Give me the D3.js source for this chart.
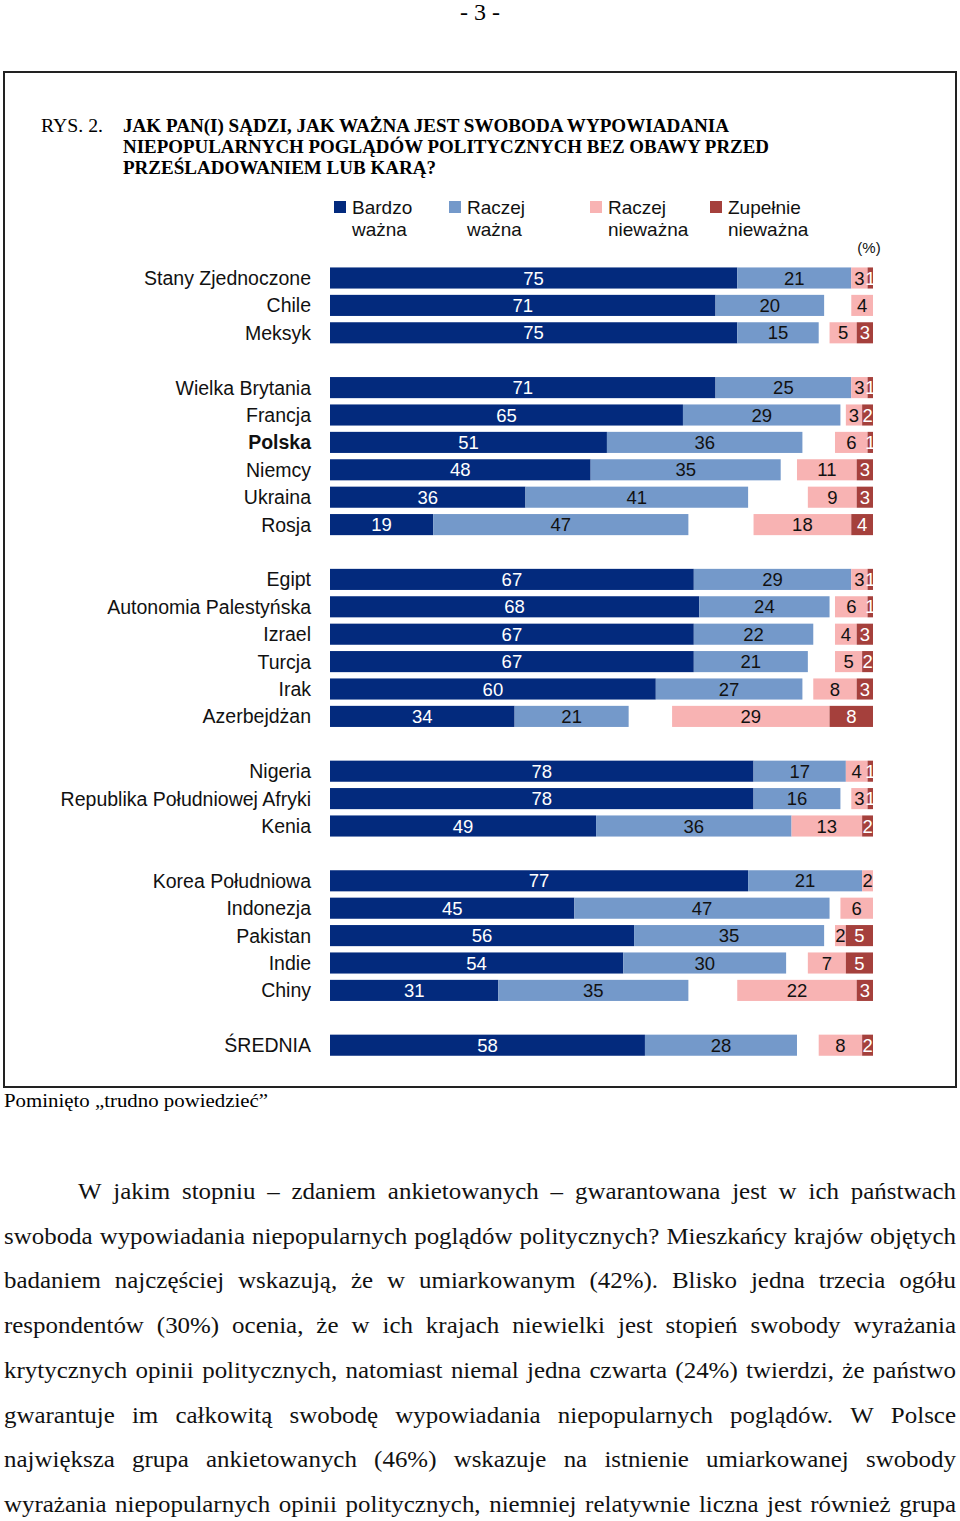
<!DOCTYPE html>
<html>
<head>
<meta charset="utf-8">
<script src="https://cdn.jsdelivr.net/npm/d3@7"></script>
<style>
  html, body { margin: 0; padding: 0; background: #fff; }
  svg { display: block; }
</style>
</head>
<body>
<svg id="chart" width="960" height="1521"></svg>
<script>
// ---------------- DATA ----------------
const countries = [
  "Stany Zjednoczone", "Chile", "Meksyk", null,
  "Wielka Brytania", "Francja", "Polska", "Niemcy", "Ukraina", "Rosja", null,
  "Egipt", "Autonomia Palestyńska", "Izrael", "Turcja", "Irak", "Azerbejdżan", null,
  "Nigeria", "Republika Południowej Afryki", "Kenia", null,
  "Korea Południowa", "Indonezja", "Pakistan", "Indie", "Chiny", null,
  "ŚREDNIA"
];
const bardzoWazna = [75, 71, 75, null, 71, 65, 51, 48, 36, 19, null, 67, 68, 67, 67, 60, 34, null, 78, 78, 49, null, 77, 45, 56, 54, 31, null, 58];
const raczejWazna = [21, 20, 15, null, 25, 29, 36, 35, 41, 47, null, 29, 24, 22, 21, 27, 21, null, 17, 16, 36, null, 21, 47, 35, 30, 35, null, 28];
const raczejNiewazna = [3, 4, 5, null, 3, 3, 6, 11, 9, 18, null, 3, 6, 4, 5, 8, 29, null, 4, 3, 13, null, 2, 6, 2, 7, 22, null, 8];
const zupelnieNiewazna = [1, 0, 3, null, 1, 2, 1, 3, 3, 4, null, 1, 1, 3, 2, 3, 8, null, 1, 1, 2, null, 0, 0, 5, 5, 3, null, 2];
const boldCategory = "Polska";

const seriesNames = [["Bardzo", "ważna"], ["Raczej", "ważna"], ["Raczej", "nieważna"], ["Zupełnie", "nieważna"]];
const colors = ["#032a7d", "#7499ca", "#f8b3b3", "#a5403c"];
const labelColors = ["#ffffff", "#111111", "#111111", "#ffffff"];

const pageNumber = "- 3 -";
const figNo = "RYS. 2.";
const titleLines = [
  "JAK PAN(I) SĄDZI, JAK WAŻNA JEST SWOBODA WYPOWIADANIA",
  "NIEPOPULARNYCH POGLĄDÓW POLITYCZNYCH BEZ OBAWY PRZED",
  "PRZEŚLADOWANIEM LUB KARĄ?"
];
const unitLabel = "(%)";
const footnote = "Pominięto „trudno powiedzieć”";
const bodyLines = [
  "W jakim stopniu – zdaniem ankietowanych – gwarantowana jest w ich państwach",
  "swoboda wypowiadania niepopularnych poglądów politycznych? Mieszkańcy krajów objętych",
  "badaniem najczęściej wskazują, że w umiarkowanym (42%). Blisko jedna trzecia ogółu",
  "respondentów (30%) ocenia, że w ich krajach niewielki jest stopień swobody wyrażania",
  "krytycznych opinii politycznych, natomiast niemal jedna czwarta (24%) twierdzi, że państwo",
  "gwarantuje im całkowitą swobodę wypowiadania niepopularnych poglądów. W Polsce",
  "największa grupa ankietowanych (46%) wskazuje na istnienie umiarkowanej swobody",
  "wyrażania niepopularnych opinii politycznych, niemniej relatywnie liczna jest również grupa"
];

// ---------------- DRAW ----------------
const svg = d3.select("#chart");
const sans = "'Liberation Sans', Arial, sans-serif";
const serif = "'Liberation Serif', 'Times New Roman', serif";

// page number
svg.append("text").attr("x", 480).attr("y", 20).attr("text-anchor", "middle")
  .attr("font-family", serif).attr("font-size", 24).text(pageNumber);

// frame
svg.append("rect").attr("x", 4).attr("y", 72).attr("width", 952).attr("height", 1015)
  .attr("fill", "none").attr("stroke", "#222").attr("stroke-width", 2);

// title
svg.append("text").attr("x", 41).attr("y", 132).attr("font-family", serif).attr("font-size", 18)
  .attr("textLength", 62).attr("lengthAdjust", "spacingAndGlyphs").text(figNo);
const titleWidths = [606, 646, 313];
titleLines.forEach((t, i) => {
  svg.append("text").attr("x", 123).attr("y", 132 + i * 21)
    .attr("font-family", serif).attr("font-size", 18).attr("font-weight", "bold")
    .attr("textLength", titleWidths[i]).attr("lengthAdjust", "spacingAndGlyphs").text(t);
});

// scales
const rowKeys = countries.map((c, i) => c === null ? "gap" + i : c);
const y = d3.scaleBand().domain(rowKeys).range([264.3, 1058.9]).paddingInner(0.23).paddingOuter(0.115);
const x = d3.scaleLinear().domain([0, 100]).range([330, 873]);

// rows
const rows = countries.map((c, i) => ({
  name: c, key: rowKeys[i],
  vals: [bardzoWazna[i], raczejWazna[i], raczejNiewazna[i], zupelnieNiewazna[i]]
})).filter(d => d.name !== null);

const segs = [];
rows.forEach(r => {
  const [a, b, c, d] = r.vals;
  segs.push({ key: r.key, s: 0, x0: 0, x1: a, v: a });
  segs.push({ key: r.key, s: 1, x0: a, x1: a + b, v: b });
  segs.push({ key: r.key, s: 2, x0: 100 - d - c, x1: 100 - d, v: c });
  segs.push({ key: r.key, s: 3, x0: 100 - d, x1: 100, v: d });
});
const shown = segs.filter(d => d.v > 0);

svg.append("g").selectAll("rect").data(shown).join("rect")
  .attr("x", d => x(d.x0)).attr("width", d => x(d.x1) - x(d.x0))
  .attr("y", d => y(d.key)).attr("height", y.bandwidth())
  .attr("fill", d => colors[d.s]);

svg.append("g").selectAll("text").data(shown).join("text")
  .attr("x", d => (x(d.x0) + x(d.x1)) / 2)
  .attr("y", d => y(d.key) + y.bandwidth() / 2)
  .attr("dy", "0.36em").attr("text-anchor", "middle")
  .attr("font-family", sans).attr("font-size", 18.5)
  .attr("fill", d => labelColors[d.s]).text(d => d.v);

// category labels
svg.append("g").selectAll("text").data(rows).join("text")
  .attr("x", 311).attr("y", d => y(d.key) + y.bandwidth() / 2).attr("dy", "0.36em")
  .attr("text-anchor", "end").attr("font-family", sans).attr("font-size", 19.5)
  .attr("font-weight", d => d.name === boldCategory ? "bold" : "normal")
  .attr("fill", "#111").text(d => d.name);

// legend
const legendX = [334, 449, 590, 710];
const lg = svg.append("g").selectAll("g").data(seriesNames).join("g")
  .attr("transform", (d, i) => `translate(${legendX[i]},0)`);
lg.append("rect").attr("x", 0).attr("y", 201).attr("width", 12).attr("height", 12)
  .attr("fill", (d, i) => colors[i]);
lg.append("text").attr("x", 18).attr("y", 214).attr("font-family", sans).attr("font-size", 19)
  .attr("fill", "#111").text(d => d[0]);
lg.append("text").attr("x", 18).attr("y", 236).attr("font-family", sans).attr("font-size", 19)
  .attr("fill", "#111").text(d => d[1]);

svg.append("text").attr("x", 869).attr("y", 253).attr("text-anchor", "middle")
  .attr("font-family", sans).attr("font-size", 15).attr("fill", "#111").text(unitLabel);

// footnote
svg.append("text").attr("x", 4).attr("y", 1107).attr("font-family", serif).attr("font-size", 19)
  .attr("textLength", 264).attr("lengthAdjust", "spacingAndGlyphs").text(footnote);

// body text, justified per line
const bodySize = 24;
const minGap = 7;
const measured = bodyLines.map((line, i) => {
  const words = line.split(" ");
  const g = svg.append("g");
  const nodes = words.map(w => g.append("text").attr("font-family", serif)
    .attr("font-size", bodySize).attr("fill", "#111").text(w));
  const widths = nodes.map(n => n.node().getComputedTextLength());
  return { i, words, nodes, widths, left: i === 0 ? 78 : 4 };
});
// common horizontal stretch so the densest line has a normal word gap
const stretch = d3.min(measured, m => (956 - m.left - minGap * (m.words.length - 1)) / d3.sum(m.widths));
measured.forEach(m => {
  const by = 1199 + m.i * 44.7;
  const total = d3.sum(m.widths) * stretch;
  const gap = (956 - m.left - total) / (m.words.length - 1);
  let cx = m.left;
  m.nodes.forEach((n, k) => {
    const w = m.widths[k] * stretch;
    n.attr("x", cx).attr("y", by).attr("textLength", w).attr("lengthAdjust", "spacingAndGlyphs");
    cx += w + gap;
  });
});
</script>
</body>
</html>
